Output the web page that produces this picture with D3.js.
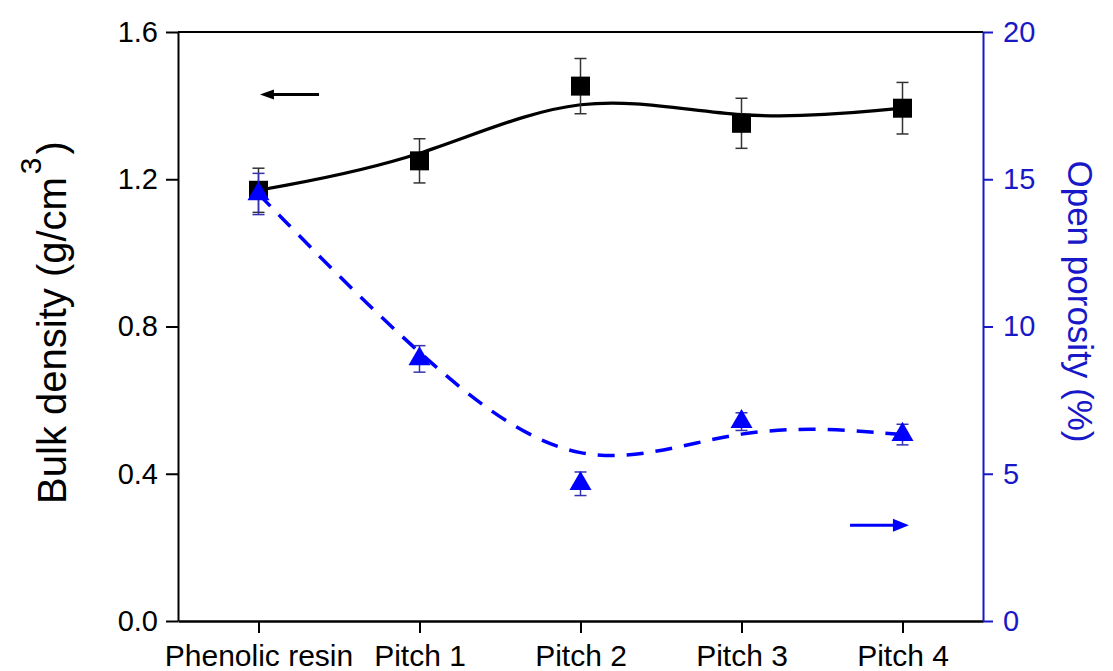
<!DOCTYPE html>
<html>
<head>
<meta charset="utf-8">
<script src="https://cdn.jsdelivr.net/npm/d3@7"></script>
<style>
  body { margin: 0; background: #fff; }
  svg { display: block; font-family: Arial, "Liberation Sans", sans-serif; }
</style>
</head>
<body>
<div id="chart"></div>
<script>
// samples along the x axis
const categories = ["Phenolic resin", "Pitch 1", "Pitch 2", "Pitch 3", "Pitch 4"];
// bulk density (g/cm3), left axis
const density = [1.17, 1.25, 1.453, 1.352, 1.393];
const densityErr = [0.06, 0.06, 0.075, 0.068, 0.07];
// open porosity (%), right axis
const porosity = [14.5, 8.9, 4.66, 6.77, 6.33];
const porosityErr = [0.7, 0.45, 0.4, 0.3, 0.35];
const leftTicks = [0, 0.4, 0.8, 1.2, 1.6];
const rightTicks = [0, 5, 10, 15, 20];

const W = 1113, H = 671;
const margin = { top: 32, right: 130, bottom: 50, left: 178 };
const blue = "#0000ff", axisBlue = "#1818c8";

const svg = d3.select("#chart").append("svg")
    .attr("width", W)
    .attr("height", H);

const x = d3.scaleLinear().domain([-0.5, 4.5]).range([margin.left, W - margin.right]);
const yL = d3.scaleLinear().domain([0, 1.6]).range([H - margin.bottom, margin.top]);
const yR = d3.scaleLinear().domain([0, 20]).range([H - margin.bottom, margin.top]);

// top frame line
svg.append("line")
    .attr("x1", x(-0.5)).attr("x2", x(4.5))
    .attr("y1", yL(1.6)).attr("y2", yL(1.6))
    .attr("stroke", "#000").attr("stroke-width", 2);

// left axis
const gL = svg.append("g")
    .attr("transform", `translate(${margin.left},0)`)
    .call(d3.axisLeft(yL).tickValues(leftTicks).tickFormat(d3.format(".1f")).tickSize(12).tickSizeOuter(0).tickPadding(8));
gL.select(".domain").attr("stroke-width", 2);
gL.selectAll(".tick line").attr("stroke-width", 2);
gL.selectAll("text").attr("font-size", 29).attr("fill", "#000").attr("font-family", null);

// bottom axis
const gB = svg.append("g")
    .attr("transform", `translate(0,${H - margin.bottom})`)
    .call(d3.axisBottom(x).tickValues(d3.range(categories.length)).tickFormat(i => categories[i]).tickSize(12).tickSizeOuter(0).tickPadding(12));
gB.select(".domain").attr("stroke-width", 2.5);
gB.selectAll(".tick line").attr("stroke-width", 2);
gB.selectAll("text").attr("font-size", 30).attr("fill", "#000").attr("font-family", null);

// right axis
const gR = svg.append("g")
    .attr("transform", `translate(${W - margin.right},0)`)
    .call(d3.axisRight(yR).tickValues(rightTicks).tickSize(10).tickSizeOuter(0).tickPadding(10));
gR.select(".domain").attr("stroke", axisBlue).attr("stroke-width", 2);
gR.selectAll(".tick line").attr("stroke", axisBlue).attr("stroke-width", 2);
gR.selectAll("text").attr("font-size", 29).attr("fill", axisBlue).attr("font-family", null);

// axis titles
const tL = svg.append("text")
    .attr("transform", `translate(66,${(margin.top + H - margin.bottom) / 2 - 4}) rotate(-90)`)
    .attr("text-anchor", "middle")
    .attr("font-size", 40)
    .attr("fill", "#000");
tL.append("tspan").text("Bulk density (g/cm");
tL.append("tspan").attr("dx", 3).attr("dy", -25).attr("font-size", 30).text("3");
tL.append("tspan").attr("dx", 3).attr("dy", 25).text(")");

svg.append("text")
    .attr("transform", `translate(1068,${(margin.top + H - margin.bottom) / 2 - 25}) rotate(90)`)
    .attr("text-anchor", "middle")
    .attr("font-size", 35)
    .attr("fill", axisBlue)
    .text("Open porosity (%)");

const idx = d3.range(categories.length);

// density series
svg.append("path")
    .datum(idx)
    .attr("fill", "none")
    .attr("stroke", "#000")
    .attr("stroke-width", 3.2)
    .attr("d", d3.line().curve(d3.curveBasis).x(i => x(i)).y(i => yL(density[i])));

const eb = svg.append("g").attr("stroke", "#333").attr("stroke-width", 1.5);
idx.forEach(i => {
    const lo = yL(density[i] - densityErr[i]), hi = yL(density[i] + densityErr[i]);
    eb.append("line").attr("x1", x(i)).attr("x2", x(i)).attr("y1", lo).attr("y2", hi);
    eb.append("line").attr("x1", x(i) - 6).attr("x2", x(i) + 6).attr("y1", lo).attr("y2", lo);
    eb.append("line").attr("x1", x(i) - 6).attr("x2", x(i) + 6).attr("y1", hi).attr("y2", hi);
});

svg.append("g").selectAll("rect")
    .data(idx)
    .join("rect")
    .attr("x", i => x(i) - 9.5)
    .attr("y", i => yL(density[i]) - 9.5)
    .attr("width", 19).attr("height", 19)
    .attr("fill", "#000");

// porosity series
svg.append("path")
    .datum(idx)
    .attr("fill", "none")
    .attr("stroke", blue)
    .attr("stroke-width", 3.5)
    .attr("stroke-dasharray", "17,12")
    .attr("d", d3.line().curve(d3.curveBasis).x(i => x(i)).y(i => yR(porosity[i])));

const ebR = svg.append("g").attr("stroke", "#3333b0").attr("stroke-width", 1.5);
idx.forEach(i => {
    const lo = yR(porosity[i] - porosityErr[i]), hi = yR(porosity[i] + porosityErr[i]);
    ebR.append("line").attr("x1", x(i)).attr("x2", x(i)).attr("y1", lo).attr("y2", hi);
    ebR.append("line").attr("x1", x(i) - 6).attr("x2", x(i) + 6).attr("y1", lo).attr("y2", lo);
    ebR.append("line").attr("x1", x(i) - 6).attr("x2", x(i) + 6).attr("y1", hi).attr("y2", hi);
});

svg.append("g").selectAll("path")
    .data(idx)
    .join("path")
    .attr("transform", i => `translate(${x(i)},${yR(porosity[i])})`)
    .attr("d", d3.symbol(d3.symbolTriangle, 210))
    .attr("fill", blue);

// direction arrows
function arrow(x1, x2, y, color, head, half) {
    const dir = Math.sign(x2 - x1);
    svg.append("line")
        .attr("x1", x1).attr("x2", x2 - dir * head * 0.8)
        .attr("y1", y).attr("y2", y)
        .attr("stroke", color).attr("stroke-width", 3);
    svg.append("path")
        .attr("d", `M${x2},${y}L${x2 - dir * head},${y - half}L${x2 - dir * head},${y + half}Z`)
        .attr("fill", color);
}
arrow(x(0.376), x(0.009), yL(1.43), "#000", 14, 5);
arrow(x(3.674), x(4.04), yR(3.25), blue, 16, 6.5);
</script>
</body>
</html>
